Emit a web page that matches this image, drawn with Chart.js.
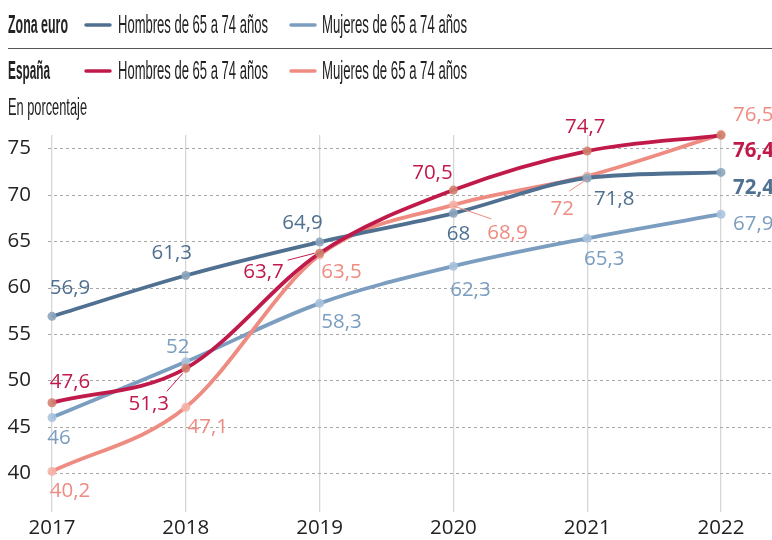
<!DOCTYPE html>
<html><head><meta charset="utf-8">
<script src="https://cdn.jsdelivr.net/npm/chart.js@4.4.0/dist/chart.umd.min.js"></script>
<style>html,body{margin:0;padding:0;background:#fff;}#wrap{width:772px;height:540px;position:relative;}</style>
</head><body><div id="wrap"><canvas id="c" width="772" height="540"></canvas></div>
<script>
// ---- data ----
const years = ['2017','2018','2019','2020','2021','2022'];
const euroHombres = [56.9, 61.3, 64.9, 68, 71.8, 72.4];
const euroMujeres = [46, 52, 58.3, 62.3, 65.3, 67.9];
const espHombres  = [47.6, 51.3, 63.7, 70.5, 74.7, 76.4];
const espMujeres  = [40.2, 47.1, 63.5, 68.9, 72, 76.5];
const yTicks = [40, 45, 50, 55, 60, 65, 70, 75];
const groupNames = ['Zona euro', 'España'];
const seriesNames = ['Hombres de 65 a 74 años', 'Mujeres de 65 a 74 años'];
const unitNote = 'En porcentaje';

// ---- styles ----
const C = {
  euroH: '#4f7090', euroM: '#7b9dc0', espH: '#c01a4b', espM: '#ee8c82'
};
const PT = {
  euroH: 'rgba(140,165,190,0.9)', euroM: 'rgba(170,195,222,0.9)',
  espH: 'rgba(210,130,112,0.9)', espM: 'rgba(246,178,168,0.9)'
};
const LABEL_FONT = '20.5px "Open Sans", "Noto Sans", sans-serif';
const LABEL_FONT_B = 'bold 20.5px "Open Sans", "Noto Sans", sans-serif';

// label placement per series: [dx, dy, align, bold, leader]
const labelPos = {
  euroH: [[18,-29,'center'],[-14,-23,'center'],[-17,-20,'center'],[5,20,'center'],[27,20,'center'],[12,15,'left',true]],
  euroM: [[7,20,'center'],[-8,-16,'center'],[22,18,'center'],[17,23,'center'],[17,20,'center'],[12,9,'left']],
  espH:  [[18,-22,'center'],[-37,35,'center',false,[-3,5,-19,23]],[-56,18,'center',false,[-5,0,-32,7]],[-21,-18,'center'],[-2,-25,'center'],[12,15,'left',true]],
  espM:  [[18,19,'center'],[22,19,'center'],[22,16,'center'],[54,27,'center',false,[0,1,38,14]],[-25,32,'center',false,[0,3,-18,15]],[12,-20,'left']]
};

function fmt(v){ return String(v).replace('.', ','); }

function fitText(ctx, text, x, y, width, font, color) {
  ctx.save();
  ctx.font = font; ctx.fillStyle = color; ctx.textBaseline = 'middle'; ctx.textAlign = 'left';
  const w = ctx.measureText(text).width;
  ctx.translate(x, y); ctx.scale(width / w, 1);
  ctx.fillText(text, 0, 0);
  ctx.restore();
}

const headerPlugin = {
  id: 'header',
  afterDraw(chart) {
    const ctx = chart.ctx;
    const NB = 'bold 25px "Liberation Sans", "DejaVu Sans", sans-serif';
    const NR = '25px "Liberation Sans", "DejaVu Sans", sans-serif';
    const rows = [
      {y: 26, name: groupNames[0], nw: 60, cols: [C.euroH, C.euroM]},
      {y: 72, name: groupNames[1], nw: 42, cols: [C.espH, C.espM]}
    ];
    rows.forEach(r => {
      fitText(ctx, r.name, 8, r.y, r.nw, NB, '#222');
      const items = [{lx: 85, tx: 118, tw: 150}, {lx: 290, tx: 322, tw: 145}];
      items.forEach((it, i) => {
        ctx.save();
        ctx.strokeStyle = r.cols[i]; ctx.lineWidth = 3.5; ctx.lineCap = 'round';
        ctx.beginPath(); ctx.moveTo(it.lx + 1, r.y - 1); ctx.lineTo(it.lx + 25, r.y - 1); ctx.stroke();
        ctx.restore();
        fitText(ctx, seriesNames[i], it.tx, r.y, it.tw, NR, '#222');
      });
    });
    ctx.save();
    ctx.strokeStyle = '#555'; ctx.lineWidth = 1.2;
    ctx.beginPath(); ctx.moveTo(8, 48.5); ctx.lineTo(772, 48.5); ctx.stroke();
    ctx.restore();
    fitText(ctx, unitNote, 8, 109, 79, '23px "Liberation Sans", "DejaVu Sans", sans-serif', '#222');
  }
};

const hGridPlugin = {
  id: 'hgrid',
  beforeDatasetsDraw(chart) {
    const ctx = chart.ctx, ys = chart.scales.y;
    ctx.save();
    ctx.strokeStyle = '#a8a8a8'; ctx.lineWidth = 1; ctx.setLineDash([3, 3]);
    yTicks.forEach(t => {
      const y = Math.round(ys.getPixelForValue(t)) + 0.5;
      ctx.beginPath(); ctx.moveTo(48, y); ctx.lineTo(772, y); ctx.stroke();
    });
    ctx.restore();
  }
};

const labelPlugin = {
  id: 'dlabels',
  afterDatasetsDraw(chart) {
    const ctx = chart.ctx;
    chart.data.datasets.forEach((ds, di) => {
      const meta = chart.getDatasetMeta(di);
      const pos = labelPos[ds.key];
      meta.data.forEach((pt, i) => {
        const p = pos[i];
        const x = pt.x, y = pt.y;
        if (p[4]) {
          ctx.save();
          ctx.strokeStyle = ds.borderColor; ctx.lineWidth = 1;
          ctx.beginPath(); ctx.moveTo(x + p[4][0], y + p[4][1]); ctx.lineTo(x + p[4][2], y + p[4][3]); ctx.stroke();
          ctx.restore();
        }
        ctx.save();
        ctx.font = p[3] ? LABEL_FONT_B : LABEL_FONT;
        ctx.fillStyle = ds.borderColor;
        ctx.textAlign = p[2]; ctx.textBaseline = 'middle';
        ctx.fillText(fmt(ds.data[i]), x + p[0], y + p[1] + 1);
        ctx.restore();
      });
    });
  }
};

function ds(key, label, data, order) {
  return {
    key, label, data, order,
    borderColor: C[key], backgroundColor: C[key],
    borderWidth: 3.8, cubicInterpolationMode: 'monotone',
    pointRadius: 4.5, pointBorderWidth: 0, pointBackgroundColor: PT[key],
    clip: false
  };
}

new Chart(document.getElementById('c'), {
  type: 'line',
  data: {
    labels: years,
    datasets: [
      ds('espH', 'España hombres', espHombres, 0),
      ds('euroH', 'Zona euro hombres', euroHombres, 1),
      ds('espM', 'España mujeres', espMujeres, 2),
      ds('euroM', 'Zona euro mujeres', euroMujeres, 3)
    ]
  },
  options: {
    responsive: false, animation: false, devicePixelRatio: 1,
    layout: { padding: { top: 135, right: 51, left: 0, bottom: 0 } },
    plugins: { legend: { display: false }, tooltip: { enabled: false } },
    scales: {
      x: {
        type: 'category', offset: false,
        grid: { color: '#d6d6d6', lineWidth: 1.3, drawTicks: false },
        border: { display: false },
        ticks: { font: { family: '"Open Sans", "Noto Sans", sans-serif', size: 20.5 }, color: '#222', padding: 4, maxRotation: 0, autoSkip: false },
        afterFit: s => { s.height = 28; }
      },
      y: {
        min: 35.83, max: 76.43,
        grid: { display: false },
        border: { display: false },
        ticks: { stepSize: 5, includeBounds: false, font: { family: '"Open Sans", "Noto Sans", sans-serif', size: 20.5 }, color: '#222', padding: 13 },
        afterFit: s => { s.width = 52; }
      }
    }
  },
  plugins: [hGridPlugin, labelPlugin, headerPlugin]
});
</script>
</body></html>
